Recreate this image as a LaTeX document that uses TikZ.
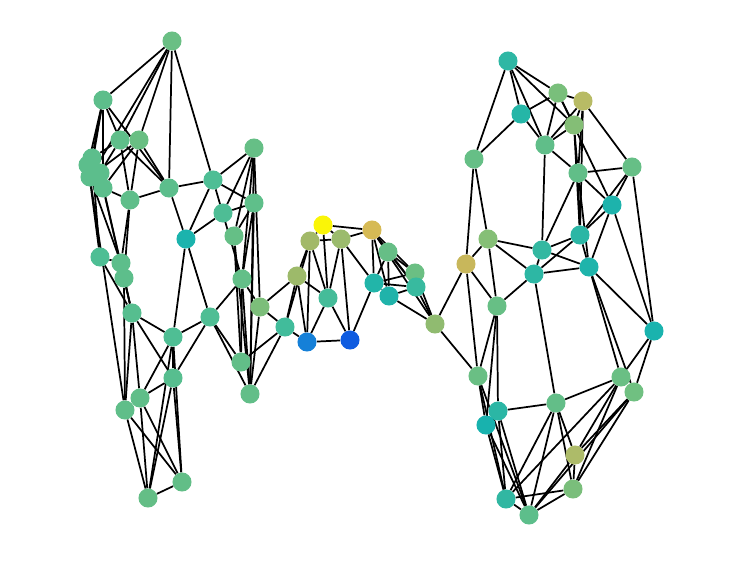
\documentclass[tikz,border=0pt]{standalone}
\usetikzlibrary{backgrounds}
\begin{document}
\begin{tikzpicture}[x=0.75pt,y=-0.75pt,
  dot/.style={circle,draw=none,minimum size=14.3pt,inner sep=0pt},
  edge/.style={line width=1.3pt,black}]
\useasboundingbox (0,0) rectangle (740,583);
% left cluster
\node[dot,fill={rgb,255:red,106;green,191;blue,132}] (a1) at (172,41) {};
\node[dot,fill={rgb,255:red,93;green,190;blue,139}] (a2) at (103,100) {};
\node[dot,fill={rgb,255:red,95;green,190;blue,138}] (a3) at (120,140) {};
\node[dot,fill={rgb,255:red,105;green,191;blue,131}] (a4) at (139,140) {};
\node[dot,fill={rgb,255:red,92;green,190;blue,140}] (c1) at (92,158) {};
\node[dot,fill={rgb,255:red,92;green,190;blue,140}] (c2) at (88,165) {};
\node[dot,fill={rgb,255:red,92;green,190;blue,140}] (c3) at (90,177) {};
\node[dot,fill={rgb,255:red,92;green,190;blue,140}] (c4) at (100,173) {};
\node[dot,fill={rgb,255:red,92;green,190;blue,140}] (c5) at (103,188) {};
\node[dot,fill={rgb,255:red,95;green,190;blue,138}] (a10) at (130,200) {};
\node[dot,fill={rgb,255:red,92;green,190;blue,140}] (a11) at (169,188) {};
\node[dot,fill={rgb,255:red,78;green,190;blue,149}] (a12) at (213,180) {};
\node[dot,fill={rgb,255:red,102;green,191;blue,134}] (a13) at (254,148) {};
\node[dot,fill={rgb,255:red,95;green,191;blue,138}] (a14) at (254,203) {};
\node[dot,fill={rgb,255:red,78;green,189;blue,149}] (a15) at (223,213) {};
\node[dot,fill={rgb,255:red,101;green,191;blue,134}] (a16) at (234,236) {};
\node[dot,fill={rgb,255:red,27;green,179;blue,173}] (a17) at (186,239) {};
\node[dot,fill={rgb,255:red,78;green,190;blue,148}] (a18) at (100,257) {};
\node[dot,fill={rgb,255:red,93;green,190;blue,139}] (a19) at (121,263) {};
\node[dot,fill={rgb,255:red,93;green,190;blue,139}] (a20) at (124,278) {};
\node[dot,fill={rgb,255:red,86;green,190;blue,143}] (a21) at (132,313) {};
\node[dot,fill={rgb,255:red,79;green,190;blue,148}] (a22) at (173,337) {};
\node[dot,fill={rgb,255:red,79;green,190;blue,148}] (a23) at (210,317) {};
\node[dot,fill={rgb,255:red,99;green,191;blue,136}] (a24) at (242,279) {};
\node[dot,fill={rgb,255:red,124;green,190;blue,122}] (a25) at (260,307) {};
\node[dot,fill={rgb,255:red,98;green,190;blue,136}] (a26) at (241,362) {};
\node[dot,fill={rgb,255:red,98;green,190;blue,136}] (a27) at (250,394) {};
\node[dot,fill={rgb,255:red,87;green,190;blue,143}] (a28) at (173,378) {};
\node[dot,fill={rgb,255:red,96;green,190;blue,137}] (a29) at (140,398) {};
\node[dot,fill={rgb,255:red,96;green,190;blue,137}] (a30) at (125,410) {};
\node[dot,fill={rgb,255:red,98;green,190;blue,135}] (a31) at (182,482) {};
\node[dot,fill={rgb,255:red,100;green,190;blue,134}] (a32) at (148,498) {};
% middle
\node[dot,fill={rgb,255:red,250;green,245;blue,7}] (m1) at (323,225) {};
\node[dot,fill={rgb,255:red,214;green,186;blue,85}] (m2) at (372,230) {};
\node[dot,fill={rgb,255:red,162;green,185;blue,104}] (m3) at (310,241) {};
\node[dot,fill={rgb,255:red,155;green,187;blue,109}] (m4) at (341,239) {};
\node[dot,fill={rgb,255:red,157;green,186;blue,106}] (m5) at (297,276) {};
\node[dot,fill={rgb,255:red,102;green,190;blue,134}] (m6) at (388,252) {};
\node[dot,fill={rgb,255:red,107;green,191;blue,131}] (m7) at (415,273) {};
\node[dot,fill={rgb,255:red,56;green,186;blue,159}] (m8) at (416,287) {};
\node[dot,fill={rgb,255:red,34;green,181;blue,169}] (m9) at (374,283) {};
\node[dot,fill={rgb,255:red,32;green,179;blue,170}] (m10) at (389,296) {};
\node[dot,fill={rgb,255:red,69;green,188;blue,153}] (m11) at (328,298) {};
\node[dot,fill={rgb,255:red,65;green,188;blue,155}] (m12) at (285,327) {};
\node[dot,fill={rgb,255:red,21;green,128;blue,216}] (m13) at (307,342) {};
\node[dot,fill={rgb,255:red,15;green,92;blue,224}] (m14) at (350,340) {};
\node[dot,fill={rgb,255:red,144;green,187;blue,112}] (m15) at (435,324) {};
% right
\node[dot,fill={rgb,255:red,46;green,183;blue,164}] (r1) at (508,61) {};
\node[dot,fill={rgb,255:red,121;green,191;blue,123}] (r2) at (558,93) {};
\node[dot,fill={rgb,255:red,184;green,187;blue,101}] (r3) at (583,101) {};
\node[dot,fill={rgb,255:red,37;green,182;blue,167}] (r4) at (521,114) {};
\node[dot,fill={rgb,255:red,132;green,190;blue,118}] (r5) at (574,125) {};
\node[dot,fill={rgb,255:red,96;green,190;blue,137}] (r6) at (545,145) {};
\node[dot,fill={rgb,255:red,102;green,191;blue,134}] (r7) at (474,159) {};
\node[dot,fill={rgb,255:red,97;green,190;blue,136}] (r8) at (578,173) {};
\node[dot,fill={rgb,255:red,102;green,191;blue,134}] (r9) at (632,167) {};
\node[dot,fill={rgb,255:red,29;green,179;blue,172}] (r10) at (612,205) {};
\node[dot,fill={rgb,255:red,43;green,182;blue,165}] (r11) at (580,235) {};
\node[dot,fill={rgb,255:red,133;green,191;blue,118}] (r12) at (488,239) {};
\node[dot,fill={rgb,255:red,52;green,184;blue,161}] (r13) at (542,250) {};
\node[dot,fill={rgb,255:red,200;green,183;blue,91}] (r14) at (466,264) {};
\node[dot,fill={rgb,255:red,31;green,180;blue,171}] (r15) at (589,267) {};
\node[dot,fill={rgb,255:red,45;green,183;blue,164}] (r16) at (534,274) {};
\node[dot,fill={rgb,255:red,103;green,191;blue,133}] (r17) at (497,306) {};
\node[dot,fill={rgb,255:red,26;green,179;blue,174}] (r18) at (654,331) {};
\node[dot,fill={rgb,255:red,106;green,191;blue,132}] (r19) at (478,376) {};
\node[dot,fill={rgb,255:red,106;green,191;blue,132}] (r20) at (621,377) {};
\node[dot,fill={rgb,255:red,112;green,192;blue,129}] (r21) at (634,392) {};
\node[dot,fill={rgb,255:red,99;green,190;blue,136}] (r22) at (556,403) {};
\node[dot,fill={rgb,255:red,43;green,182;blue,165}] (r23) at (498,411) {};
\node[dot,fill={rgb,255:red,24;green,178;blue,174}] (r24) at (486,425) {};
\node[dot,fill={rgb,255:red,173;green,187;blue,105}] (r25) at (575,455) {};
\node[dot,fill={rgb,255:red,122;green,190;blue,123}] (r26) at (573,489) {};
\node[dot,fill={rgb,255:red,49;green,183;blue,162}] (r27) at (506,499) {};
\node[dot,fill={rgb,255:red,93;green,190;blue,139}] (r28) at (529,515) {};
\begin{scope}[on background layer]
\foreach \u/\v in {a1/a2,a1/a3,a1/a4,a1/a11,a1/a12,a1/c3,
  a2/c1,a2/c2,a2/c3,a2/c5,a2/a3,a2/a11,
  a3/c1,a3/c4,a3/a10,a3/a11,
  a4/c3,a4/c5,a4/a10,a4/a11,
  a10/c5,a10/a11,a10/a19,a10/a20,
  c1/a18,c2/a18,c3/a19,c5/a20,c4/a21,c2/a30,
  a11/a12,a11/a17,
  a12/a13,a12/a14,a12/a17,a12/a24,
  a13/a15,a13/a16,a13/a24,a13/a25,a13/a27,
  a14/a15,a14/a16,a14/a24,a14/a27,
  a15/a17,a16/a26,a16/a27,
  a17/a22,a17/a23,
  a18/a19,a18/a21,a19/a20,a19/a21,a20/a21,a20/a30,
  a21/a22,a21/a28,a21/a29,a21/a30,
  a22/a23,a22/a28,a22/a29,a22/a31,a22/a32,
  a23/a24,a23/a28,a23/a26,a23/a27,
  a24/a25,a24/a26,a24/a27,
  a25/a27,a25/m5,a25/m12,a26/m12,a27/m12,
  a28/a29,a28/a31,a28/a32,
  a29/a31,a29/a32,a30/a31,a30/a32,a31/a32,
  m1/m2,m1/m3,m1/m4,m1/m11,
  m2/m4,m2/m6,m2/m9,m2/m7,m2/m8,m2/m15,m2/m10,
  m3/m4,m3/m5,m3/m12,m3/m11,m3/m13,
  m4/m11,m4/m14,m4/m9,
  m5/m11,m5/m12,m5/m13,
  m6/m9,m6/m10,m6/m7,m6/m8,
  m7/m9,m7/m15,m7/m8,
  m8/m9,m8/m10,m8/m15,
  m9/m10,m9/m14,m10/m15,
  m11/m13,m11/m14,m12/m13,m13/m14,
  m15/r14,m15/r19,
  r1/r2,r1/r4,r1/r6,r1/r7,r1/r5,
  r2/r3,r2/r4,r2/r6,r2/r5,r2/r10,
  r3/r5,r3/r6,r3/r8,r3/r9,r3/r11,
  r4/r6,r4/r7,
  r5/r6,r5/r8,r5/r11,
  r6/r8,r6/r13,
  r7/r12,r7/r14,
  r8/r9,r8/r10,r8/r11,r8/r15,r8/r13,
  r9/r10,r9/r11,r9/r18,
  r10/r11,r10/r15,r10/r18,
  r11/r13,r11/r16,r11/r15,
  r12/r13,r12/r14,r12/r16,r12/r17,
  r13/r15,r13/r16,
  r14/r17,r14/r19,
  r15/r16,r15/r18,r15/r20,r15/r21,
  r16/r17,r16/r22,
  r17/r19,r17/r23,r17/r24,
  r18/r20,r18/r21,
  r19/r24,r19/r27,r19/r28,
  r20/r22,r20/r25,r20/r26,r20/r27,
  r21/r25,r21/r26,r21/r28,
  r22/r23,r22/r25,r22/r26,r22/r27,r22/r28,
  r23/r27,r23/r28,r24/r27,r24/r28,
  r25/r26,r25/r28,r26/r27,r26/r28,r27/r28}
  \draw[edge] (\u) -- (\v);
\end{scope}
\end{tikzpicture}
\end{document}
